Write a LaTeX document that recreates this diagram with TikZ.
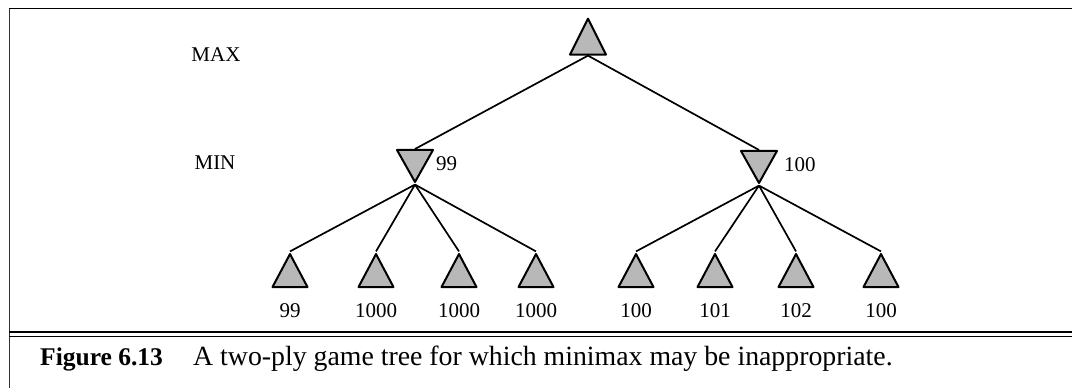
\documentclass[tikz,border=0pt]{standalone}
\usepackage{fontspec}
\setmainfont{Liberation Serif}
\usepackage{xcolor}
\usetikzlibrary{shapes.geometric}

\definecolor{plygray}{gray}{0.72}

\tikzset{
  ply/.style={isosceles triangle, isosceles triangle stretches, draw,
    fill=plygray, line width=2pt, line join=round, inner sep=0pt},
  maxply/.style={ply, shape border rotate=90, minimum width=36pt, minimum height=36pt},
  minply/.style={ply, shape border rotate=270, minimum width=36pt, minimum height=32pt},
  leafply/.style={ply, shape border rotate=90, minimum width=35pt, minimum height=33pt},
  val/.style={inner sep=0pt, font=\fontsize{21}{25}\selectfont},
  edge/.style={line width=1.7pt}
}

\begin{document}
\begin{tikzpicture}[x=1pt,y=-1pt]
    \useasboundingbox (0,0) rectangle (1072,388);

    % Frame
    \draw[line width=1.5pt] (9,8.5) -- (1072,8.5);
    \draw[line width=1.2pt, black!80] (9.5,8.5) -- (9.5,388);
    \draw[line width=1.2pt] (9,332) -- (1072,332);
    \draw[line width=1.2pt] (9,336.5) -- (1072,336.5);

    % Ply labels
    \node[val] (maxlbl) at (216,55) {MAX};
    \node[val] (minlbl) at (215,163) {MIN};

    % MAX node
    \node[maxply] (root) at (588,43.5) {};

    % MIN nodes
    \node[minply] (minA) at (415,160.5) {};
    \node[val, anchor=west] (minAval) at (436,164) {99};
    \node[minply] (minB) at (759,161.5) {};
    \node[val, anchor=west] (minBval) at (784,165) {100};

    \draw[edge] (root.lower side) -- (minA.lower side);
    \draw[edge] (root.lower side) -- (minB.lower side);

    % Leaves
    \foreach \x/\v [count=\i] in {290/99, 376/1000, 459/1000, 536/1000,
                                 636/100, 715/101, 796/102, 881/100} {
        \node[leafply] (leaf\i) at (\x,276.5) {};
        \node[val] (leafval\i) at (\x,311) {\v};
    }
    \foreach \i in {1,...,4} {
        \draw[edge] (minA.apex) -- (leaf\i.apex);
    }
    \foreach \i in {5,...,8} {
        \draw[edge] (minB.apex) -- (leaf\i.apex);
    }

    % Caption
    \node[inner sep=0pt, anchor=base west, font=\fontsize{25.5}{30}\selectfont\bfseries]
        (figno) at (40,365) {Figure 6.13};
    \node[inner sep=0pt, anchor=base west, font=\fontsize{27.8}{32}\selectfont]
        (figtext) at (193,365) {A two-ply game tree for which minimax may be inappropriate.};
\end{tikzpicture}
\end{document}
